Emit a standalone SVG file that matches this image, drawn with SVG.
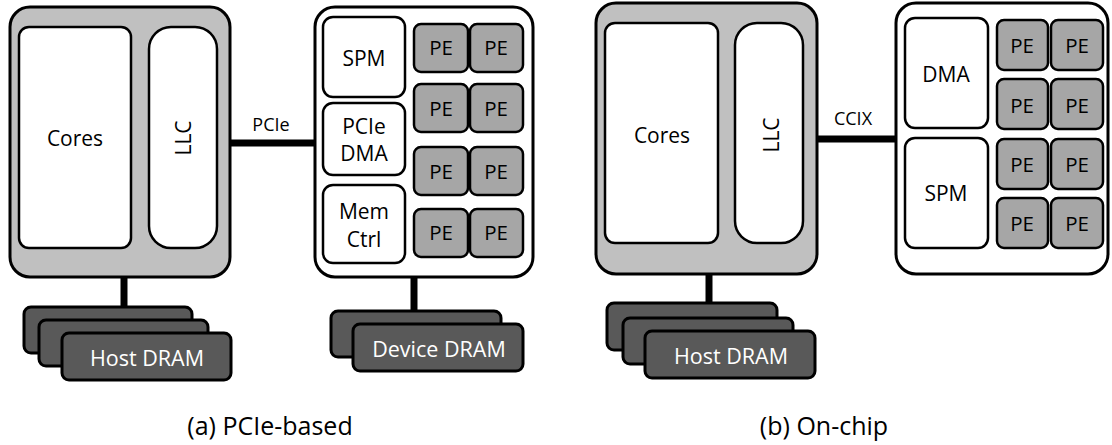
<svg xmlns="http://www.w3.org/2000/svg" width="1112" height="445" viewBox="0 0 1112 445">
  <style>
    text { font-family: "Open Sans", "Noto Sans", sans-serif; fill: #000; text-anchor: middle; dominant-baseline: central; }
    .host { fill: #c0c0c0; stroke: #000; stroke-width: 3; }
    .dev { fill: #fff; stroke: #000; stroke-width: 3; }
    .blk { fill: #fff; stroke: #000; stroke-width: 2.5; }
    .pe { fill: #a6a6a6; stroke: #000; stroke-width: 2.5; }
    .dram { fill: #595959; stroke: #000; stroke-width: 3; }
    .link { stroke: #000; stroke-width: 7; fill: none; }
    .t21 { font-size: 21px; }
    .t20 { font-size: 20.5px; }
    .bus { font-size: 18px; }
    .dr { font-size: 21.5px; fill: #fff; }
    .cap { font-size: 25px; dominant-baseline: alphabetic; }
  </style>

  <!-- connectors -->
  <g id="connectors">
    <line class="link" x1="230" y1="143" x2="315" y2="143"/>
    <line class="link" x1="124" y1="277" x2="124" y2="308"/>
    <line class="link" x1="414" y1="277" x2="414" y2="312"/>
    <line class="link" x1="817" y1="139" x2="896" y2="139"/>
    <line class="link" x1="709" y1="274" x2="709" y2="304"/>
    <text class="bus" x="271" y="124">PCIe</text>
    <text class="bus" x="853" y="118">CCIX</text>
  </g>

  <!-- (a) PCIe-based -->
  <g id="host-a">
    <rect class="host" x="10" y="7" width="220" height="270" rx="20"/>
    <rect class="blk" x="19" y="27" width="112" height="221" rx="10"/>
    <text class="t21" x="75" y="138">Cores</text>
    <rect class="blk" x="149" y="27" width="68" height="221" rx="22"/>
    <text class="t21" transform="translate(183 138) rotate(-90)">LLC</text>
  </g>

  <g id="device-a">
    <rect class="dev" x="315" y="7" width="218" height="270" rx="20"/>
    <rect class="blk" x="323" y="17" width="82" height="80" rx="10"/>
    <text class="t21" x="364" y="58">SPM</text>
    <rect class="blk" x="323" y="103" width="82" height="72" rx="10"/>
    <text class="t21" x="364" y="126">PCIe</text>
    <text class="t21" x="364" y="153">DMA</text>
    <rect class="blk" x="323" y="185" width="82" height="78" rx="10"/>
    <text class="t21" x="364" y="211">Mem</text>
    <text class="t21" x="364" y="239">Ctrl</text>
    <g class="pes">
      <rect class="pe" x="414" y="24" width="54" height="48" rx="7"/>
      <rect class="pe" x="470" y="24" width="53" height="48" rx="7"/>
      <rect class="pe" x="414" y="84" width="54" height="48" rx="7"/>
      <rect class="pe" x="470" y="84" width="53" height="48" rx="7"/>
      <rect class="pe" x="414" y="147" width="54" height="48" rx="7"/>
      <rect class="pe" x="470" y="147" width="53" height="48" rx="7"/>
      <rect class="pe" x="414" y="209" width="54" height="48" rx="7"/>
      <rect class="pe" x="470" y="209" width="53" height="48" rx="7"/>
      <text class="t20" x="441" y="47">PE</text>
      <text class="t20" x="496" y="47">PE</text>
      <text class="t20" x="441" y="108">PE</text>
      <text class="t20" x="496" y="108">PE</text>
      <text class="t20" x="441" y="171">PE</text>
      <text class="t20" x="496" y="171">PE</text>
      <text class="t20" x="441" y="232">PE</text>
      <text class="t20" x="496" y="232">PE</text>
    </g>
  </g>

  <g id="host-dram-a">
    <rect class="dram" x="24" y="307" width="168" height="46" rx="7"/>
    <rect class="dram" x="39" y="320" width="169" height="46" rx="7"/>
    <rect class="dram" x="62" y="333" width="169" height="47" rx="7"/>
    <text class="dr" x="147" y="357">Host DRAM</text>
  </g>

  <g id="device-dram-a">
    <rect class="dram" x="331" y="311" width="170" height="46" rx="7"/>
    <rect class="dram" x="353" y="324" width="170" height="47" rx="7"/>
    <text class="dr" x="439" y="348">Device DRAM</text>
  </g>

  <text id="caption-a" class="cap" x="270" y="435">(a) PCIe-based</text>

  <!-- (b) On-chip -->
  <g id="host-b">
    <rect class="host" x="596" y="3" width="221" height="271" rx="20"/>
    <rect class="blk" x="605" y="23" width="113" height="220" rx="10"/>
    <text class="t21" x="662" y="135">Cores</text>
    <rect class="blk" x="735" y="23" width="68" height="220" rx="22"/>
    <text class="t21" transform="translate(771 135) rotate(-90)">LLC</text>
  </g>

  <g id="accel-b">
    <rect class="dev" x="896" y="3" width="212" height="271" rx="20"/>
    <rect class="blk" x="905" y="18" width="83" height="110" rx="10"/>
    <text class="t21" x="946" y="74">DMA</text>
    <rect class="blk" x="905" y="138" width="83" height="110" rx="10"/>
    <text class="t21" x="946" y="193">SPM</text>
    <g class="pes">
      <rect class="pe" x="997" y="20" width="51" height="50" rx="7"/>
      <rect class="pe" x="1051" y="20" width="52" height="50" rx="7"/>
      <rect class="pe" x="997" y="79" width="51" height="50" rx="7"/>
      <rect class="pe" x="1051" y="79" width="52" height="50" rx="7"/>
      <rect class="pe" x="997" y="139" width="51" height="50" rx="7"/>
      <rect class="pe" x="1051" y="139" width="52" height="50" rx="7"/>
      <rect class="pe" x="997" y="198" width="51" height="50" rx="7"/>
      <rect class="pe" x="1051" y="198" width="52" height="50" rx="7"/>
      <text class="t20" x="1022" y="45">PE</text>
      <text class="t20" x="1077" y="45">PE</text>
      <text class="t20" x="1022" y="105">PE</text>
      <text class="t20" x="1077" y="105">PE</text>
      <text class="t20" x="1022" y="164">PE</text>
      <text class="t20" x="1077" y="164">PE</text>
      <text class="t20" x="1022" y="223">PE</text>
      <text class="t20" x="1077" y="223">PE</text>
    </g>
  </g>

  <g id="host-dram-b">
    <rect class="dram" x="607" y="303" width="170" height="47" rx="7"/>
    <rect class="dram" x="623" y="318" width="170" height="46" rx="7"/>
    <rect class="dram" x="645" y="331" width="170" height="47" rx="7"/>
    <text class="dr" x="731" y="355">Host DRAM</text>
  </g>

  <text id="caption-b" class="cap" x="824" y="435">(b) On-chip</text>
</svg>
